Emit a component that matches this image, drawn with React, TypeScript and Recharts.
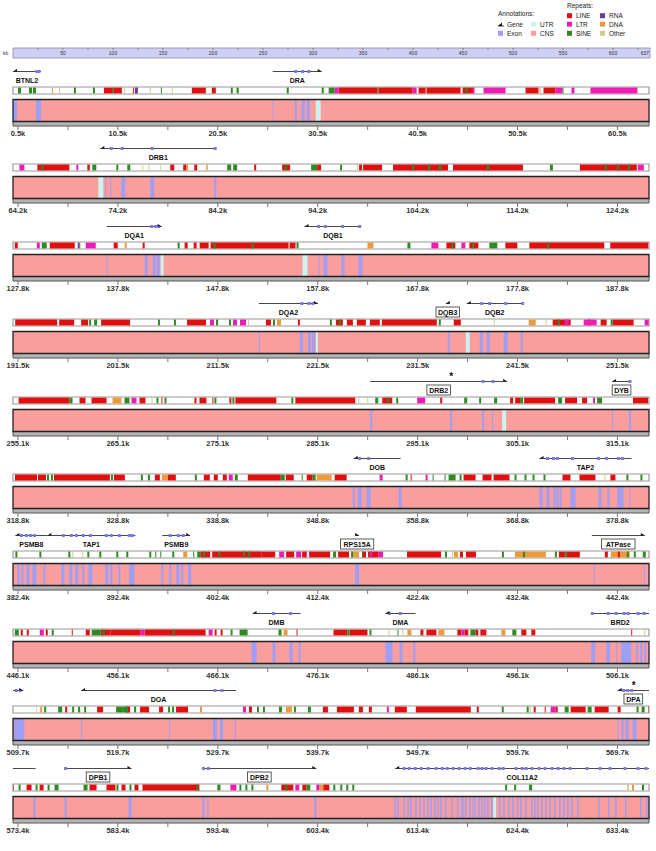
import React from 'react';
import { ComposedChart, XAxis, YAxis, ReferenceArea, ReferenceLine, Scatter } from 'recharts';

type Span = [number, number];

// rows of the browser, kb
const rowStarts = [0, 63.66, 127.32, 190.98, 254.64, 318.3, 381.96, 445.62, 509.28, 572.94];
const ROW_SPAN = 63.66;

const tickLabels = [
  ['0.5k', '10.5k', '20.5k', '30.5k', '40.5k', '50.5k', '60.5k'],
  ['64.2k', '74.2k', '84.2k', '94.2k', '104.2k', '114.2k', '124.2k'],
  ['127.8k', '137.8k', '147.8k', '157.8k', '167.8k', '177.8k', '187.8k'],
  ['191.5k', '201.5k', '211.5k', '221.5k', '231.5k', '241.5k', '251.5k'],
  ['255.1k', '265.1k', '275.1k', '285.1k', '295.1k', '305.1k', '315.1k'],
  ['318.8k', '328.8k', '338.8k', '348.8k', '358.8k', '368.8k', '378.8k'],
  ['382.4k', '392.4k', '402.4k', '412.4k', '422.4k', '432.4k', '442.4k'],
  ['446.1k', '456.1k', '466.1k', '476.1k', '486.1k', '496.1k', '506.1k'],
  ['509.7k', '519.7k', '529.7k', '539.7k', '549.7k', '559.7k', '569.7k'],
  ['573.4k', '583.4k', '593.4k', '603.4k', '613.4k', '624.4k', '633.4k'],
];

const rulerTicks = [0, 25, 50, 75, 100, 125, 150, 175, 200, 225, 250, 275, 300, 325, 350, 375, 400, 425, 450, 475, 500, 525, 550, 575, 600, 625, 637];

// repeats by class, kb
const lineRepeats: Span[] = [
  [9.1, 10.0], [10.1, 10.9], [12.0, 12.1], [17.9, 19.3], [19.9, 20.3], [32.6, 36.5], [36.6, 40.0], [40.6, 41.3], [41.4, 44.8], [45.0, 46.1], [51.3, 52.6], [53.1, 54.3],
  [66.1, 69.3], [71.1, 71.35], [79.4, 79.8], [80.7, 81.0], [81.8, 82.1], [87.8, 88.0], [90.6, 91.4], [94.1, 94.5], [98.3, 98.6], [98.7, 100.6], [101.7, 107.2], [107.7, 114.7], [120.4, 126.1],
  [127.5, 127.8], [131.0, 133.5], [137.4, 137.8], [140.3, 140.5], [144.5, 144.8], [145.4, 145.7], [146.0, 146.9], [147.1, 154.9], [155.0, 155.6], [170.7, 171.6], [173.0, 173.9], [176.6, 177.8], [179.0, 186.5], [187.1, 190.9],
  [191.2, 195.4], [195.6, 197.1], [197.8, 198.5], [199.8, 202.7], [208.4, 210.3], [216.3, 216.8], [219.5, 219.7], [223.3, 224.0], [224.4, 225.0], [225.4, 226.3], [226.7, 227.7], [227.9, 233.4], [235.1, 235.8], [245.0, 246.8], [248.5, 248.8], [249.8, 250.4], [251.0, 253.1],
  [255.2, 260.3], [261.3, 261.9], [262.5, 264.0], [267.3, 267.9], [269.5, 269.6], [272.8, 273.0], [273.3, 274.0], [274.6, 274.7], [276.3, 276.5], [276.9, 281.0], [282.9, 288.9], [291.6, 292.6], [297.4, 297.6], [304.4, 304.7], [304.9, 305.4], [305.8, 308.9], [309.9, 311.1], [311.6, 312.1], [316.7, 318.2],
  [318.5, 320.7], [320.8, 321.6], [322.4, 328.0], [328.4, 329.5], [332.5, 333.0], [333.8, 334.6], [337.4, 338.0], [338.4, 338.8], [339.3, 339.7], [341.8, 345.1], [345.6, 346.4], [347.7, 348.3], [350.5, 351.7], [358.1, 358.2], [363.4, 364.6], [365.3, 366.2], [366.4, 368.0], [373.3, 374.1], [375.0, 376.6], [378.1, 378.6],
  [400.7, 401.7], [401.9, 406.8], [406.8, 408.2], [409.3, 410.1], [410.9, 411.3], [411.6, 413.7], [414.5, 415.6], [416.9, 417.3], [417.5, 418.5], [421.4, 424.8], [426.7, 427.0], [427.3, 428.3], [436.6, 437.2], [437.4, 438.7], [441.2, 441.5], [442.5, 442.7],
  [446.4, 446.6], [447.0, 447.2], [448.9, 449.1], [451.5, 451.6], [452.9, 453.3], [454.4, 455.4], [455.4, 458.4], [458.8, 464.9], [465.8, 466.0], [466.4, 466.6], [474.0, 474.1], [477.7, 479.1], [479.3, 481.1], [486.4, 486.7], [487.0, 488.0], [490.1, 490.5], [490.8, 491.2], [491.9, 492.2], [492.4, 493.0], [496.5, 497.0], [497.5, 497.9], [507.5, 507.6],
  [514.5, 514.7], [517.7, 518.3], [520.6, 521.0], [522.0, 522.9], [523.9, 524.3], [525.6, 526.8], [532.9, 533.2], [540.3, 540.8], [541.7, 543.4], [543.9, 544.3], [544.9, 545.2], [547.5, 548.7], [549.6, 555.1], [555.7, 555.9], [561.4, 561.6], [562.5, 562.6], [563.6, 563.8], [565.1, 566.6], [567.5, 568.9], [569.8, 570.1], [572.9, 573.0],
  [574.3, 574.8], [575.6, 576.0], [580.6, 581.3], [582.3, 583.2], [583.8, 584.2], [585.1, 585.5], [585.9, 591.6], [599.8, 601.0], [601.9, 602.3], [604.0, 604.6],
];

const ltrRepeats: Span[] = [
  [32.2, 32.6], [40.0, 40.4], [46.0, 46.2], [47.1, 49.3], [54.3, 55.0], [55.9, 56.2], [57.8, 62.5],
  [64.3, 64.8], [70.0, 70.2], [126.2, 126.8],
  [129.7, 130.0], [134.6, 135.6], [169.2, 169.9], [172.2, 172.6],
  [210.7, 211.1], [213.0, 213.4], [213.7, 214.3], [246.2, 246.6], [248.1, 249.4], [254.2, 254.6],
  [266.5, 267.0], [295.1, 295.9], [312.7, 312.9],
  [339.9, 340.3], [355.0, 355.3], [359.6, 359.8],
  [408.6, 409.1], [410.3, 410.8], [411.3, 411.4], [417.7, 417.9], [418.5, 419.0],
  [448.3, 448.7], [458.4, 458.8], [465.2, 465.6], [490.5, 490.8],
  [532.3, 532.6], [546.7, 546.9], [563.1, 563.6],
  [594.7, 595.3], [601.2, 601.6], [603.3, 603.6],
];

const sineRepeats: Span[] = [
  [0.5, 0.8], [1.6, 1.9], [2.0, 2.3], [6.1, 6.3], [8.0, 8.2], [10.0, 10.1], [14.8, 14.9], [21.8, 22.0], [22.4, 22.6], [27.4, 27.6], [30.9, 31.1], [31.6, 32.2], [36.5, 36.6], [45.3, 45.5], [55.0, 55.1],
  [66.5, 66.7], [71.6, 72.0], [74.0, 74.2], [75.1, 75.4], [85.1, 85.5], [85.7, 86.1], [90.9, 91.1], [93.5, 94.1], [96.4, 96.6], [103.6, 103.8], [105.2, 105.4], [106.3, 106.5], [111.1, 111.3], [117.4, 117.7], [122.9, 123.1], [124.1, 124.3], [125.2, 125.4],
  [130.2, 130.7], [143.8, 144.0], [147.4, 147.6], [151.2, 151.4], [155.7, 155.9], [166.8, 167.1], [171.2, 171.4], [173.3, 173.5], [175.0, 175.8], [180.8, 181.0],
  [198.6, 198.8], [199.1, 199.4], [205.5, 205.7], [207.1, 207.3], [211.3, 211.5], [212.6, 212.8], [217.0, 217.2], [222.7, 222.9], [223.6, 223.8], [233.6, 233.8], [245.5, 245.7], [250.8, 251.0],
  [260.3, 260.6], [265.8, 266.3], [269.0, 269.2], [269.8, 270.0], [274.8, 275.0], [276.6, 276.8], [282.5, 282.7], [290.9, 291.2], [292.1, 292.3], [293.0, 293.2], [299.8, 300.1], [301.3, 301.5], [302.8, 303.1], [305.4, 305.7], [309.2, 309.6], [313.1, 313.6],
  [321.7, 321.9], [322.1, 322.3], [328.1, 328.3], [331.1, 331.3], [331.8, 332.0], [336.5, 336.7], [340.5, 340.8], [345.1, 345.5], [347.2, 347.3], [348.3, 348.6], [357.6, 357.8], [360.3, 360.4], [361.5, 361.6], [361.9, 362.6], [363.0, 363.2], [368.5, 368.7], [369.5, 369.7], [370.3, 370.5], [371.4, 371.6], [379.7, 379.9], [381.1, 381.3],
  [382.2, 382.4], [384.6, 384.8], [387.5, 387.7], [389.4, 389.6], [390.6, 390.8], [392.3, 392.5], [393.3, 393.5], [395.6, 395.8], [396.2, 396.3], [396.7, 396.8], [397.9, 398.1], [400.0, 400.1], [400.4, 400.7], [401.0, 401.2], [402.5, 402.7], [405.0, 405.2], [405.5, 405.7], [414.0, 414.3], [415.8, 416.0], [416.9, 417.0], [425.2, 425.4], [430.9, 431.1], [433.0, 433.2], [436.2, 436.4], [437.2, 437.4], [443.4, 443.6], [444.1, 444.3], [445.0, 445.3],
  [445.8, 446.2], [449.5, 449.7], [453.5, 454.4], [454.6, 454.8], [461.6, 461.8], [467.4, 467.6], [468.3, 469.1], [472.2, 472.5], [479.1, 479.3], [481.3, 481.5], [484.1, 484.2], [491.4, 491.9], [495.6, 496.0],
  [512.4, 512.6], [513.8, 514.2], [515.2, 515.4], [515.8, 516.0], [516.4, 516.6], [519.6, 520.2], [520.2, 520.8], [521.4, 521.6], [524.8, 525.0], [525.2, 525.4], [533.7, 533.9], [534.3, 534.5], [535.9, 536.2], [537.4, 537.6], [538.8, 539.1], [558.2, 558.4], [560.7, 560.9], [564.5, 564.9], [566.8, 567.2], [571.7, 571.9], [572.2, 572.5],
  [573.5, 573.7], [575.2, 575.4], [576.4, 576.6], [577.1, 577.5], [580.0, 580.4], [583.3, 583.5], [584.6, 584.8], [591.3, 591.5], [593.4, 593.7], [595.6, 595.8], [596.2, 596.4], [596.8, 597.0], [600.2, 600.4], [602.3, 602.7], [605.0, 605.2], [605.7, 605.9], [606.3, 606.5], [606.9, 607.1], [622.2, 622.4], [623.1, 623.3], [624.6, 624.9], [635.9, 636.1],
];

const rnaRepeats: Span[] = [[12.2, 12.5], [133.8, 134.0]];

const dnaRepeats: Span[] = [
  [3.9, 4.0], [52.7, 52.8], [81.0, 81.2], [83.0, 83.15], [138.5, 138.7], [162.8, 163.4], [217.4, 217.8], [242.6, 243.3], [264.6, 265.5], [292.3, 292.5],
  [333.2, 333.8], [348.7, 350.2], [365.7, 365.9], [399.0, 399.4], [416.0, 416.6], [426.1, 426.5], [432.2, 435.3], [441.8, 443.7], [472.7, 473.1], [485.1, 485.5],
  [488.2, 488.8], [494.5, 494.9], [512.0, 512.2], [528.0, 528.2], [536.6, 537.2], [598.3, 598.5], [603.6, 604.0], [634.9, 635.1],
];

const otherRepeats: Span[] = [
  [4.6, 4.7], [11.1, 11.2], [13.7, 13.8], [15.9, 16.0], [22.3, 22.4], [41.3, 41.4], [76.6, 76.7], [77.2, 77.3], [78.4, 78.5], [98.1, 98.2], [134.0, 134.1],
  [214.5, 214.6], [239.1, 239.2], [244.3, 244.4], [268.5, 268.6], [289.2, 289.3], [290.1, 290.2], [377.5, 377.6], [387.9, 388.0], [388.9, 389.0], [425.9, 426.0],
  [483.2, 483.3], [484.6, 484.7], [508.8, 508.9], [511.6, 511.7], [561.0, 561.1], [634.4, 634.6],
];

// conserved exons and UTRs, kb
const exons: Span[] = [
  [0, 0.4], [2.3, 2.8], [26.0, 26.1], [28.2, 28.4], [28.9, 29.2], [29.4, 29.7],
  [72.9, 73.0], [73.4, 73.5], [74.5, 74.9], [77.4, 77.8], [83.8, 84.0],
  [136.7, 136.8], [140.5, 140.8], [141.3, 141.6], [141.7, 142.0], [157.9, 158.0], [158.4, 158.8], [160.2, 160.5], [161.9, 162.3],
  [215.6, 215.7], [219.7, 220.0], [220.5, 220.8], [220.9, 221.2], [234.5, 234.7], [237.7, 238.0], [238.4, 238.7], [240.1, 240.5], [241.8, 242.0],
  [290.4, 290.6], [298.4, 298.6], [301.6, 301.8], [302.6, 302.7], [314.6, 314.7], [316.3, 316.5],
  [352.3, 352.5], [352.8, 353.2], [353.7, 354.1], [356.9, 357.2], [371.0, 371.3], [371.7, 372.0], [372.4, 372.6], [372.7, 372.9], [373.0, 373.2], [374.1, 374.6], [376.9, 377.2], [377.8, 378.0], [378.8, 379.4], [380.0, 380.1],
  [382.4, 382.6], [382.8, 383.0], [383.3, 383.6], [383.9, 384.3], [385.0, 385.2], [386.8, 387.1], [387.6, 387.9], [388.2, 388.5], [388.9, 389.1], [389.5, 389.9], [391.2, 391.5], [391.7, 391.9], [392.5, 392.7], [393.6, 394.1],
  [396.8, 397.0], [397.6, 397.8], [398.3, 398.6], [398.8, 399.0], [399.5, 399.8], [416.2, 416.6], [440.1, 440.2], [445.1, 445.2],
  [469.5, 470.0], [471.6, 471.9], [473.3, 473.6], [474.2, 474.4], [482.9, 483.6], [484.3, 484.6], [485.7, 485.9], [503.5, 503.9], [505.0, 505.4], [506.0, 506.1], [506.5, 507.5], [508.0, 508.2], [508.4, 508.6], [508.8, 509.0],
  [509.4, 510.4], [516.1, 516.2], [524.9, 525.0], [529.3, 529.7], [530.0, 530.3], [531.5, 531.6], [569.8, 569.9], [570.2, 570.4], [570.6, 570.9], [571.3, 571.7],
  [575.0, 575.2], [578.1, 578.3], [584.5, 584.8], [591.9, 592.1], [592.4, 592.5], [603.1, 603.3],
  [611.1, 611.25], [611.4, 611.55], [612.0, 612.15], [612.4, 612.55], [612.7, 612.85], [613.2, 613.35], [613.6, 613.75], [614.0, 614.15], [614.4, 614.55], [614.7, 614.85],
  [615.1, 615.25], [615.4, 615.55], [615.7, 615.85], [616.2, 616.35], [616.8, 616.95], [617.4, 617.55], [617.8, 617.95], [618.0, 618.1], [618.2, 618.35], [618.6, 618.75],
  [618.9, 619.0], [619.1, 619.25], [619.5, 619.65], [619.8, 619.95], [620.1, 620.25], [620.4, 620.55], [620.8, 620.95], [621.6, 621.75], [622.0, 622.15], [622.5, 622.65],
  [622.9, 623.05], [623.4, 623.55], [623.7, 623.85], [624.2, 624.35], [624.8, 624.95], [625.1, 625.25], [625.4, 625.55], [625.8, 625.95], [626.2, 626.35], [626.6, 626.75],
  [627.1, 627.25], [627.6, 627.75], [628.0, 628.15], [628.4, 628.55], [628.8, 628.95], [629.4, 629.55], [631.5, 631.65], [632.5, 632.65], [633.2, 633.35], [634.2, 634.35],
  [635.7, 635.85], [636.3, 636.45],
];

const utrs: Span[] = [[30.3, 30.8], [72.2, 72.7], [142.1, 142.4], [156.3, 156.8], [221.3, 221.5], [236.3, 236.7], [303.6, 304.0], [621.0, 621.3]];

type Gene = { name: string; start: number; end: number; strand: 1 | -1; marks: number[]; boxed?: boolean; star?: number };

const genes: Gene[] = [
  { name: 'BTNL2', start: 0.0, end: 2.8, strand: -1, marks: [2.4, 2.6] },
  { name: 'DRA', start: 26.0, end: 30.9, strand: 1, marks: [28.3, 29.0, 29.6] },
  { name: 'DRB1', start: 72.4, end: 84.0, strand: -1, marks: [73.5, 74.6, 77.6, 83.9] },
  { name: 'DQA1', start: 136.7, end: 142.2, strand: 1, marks: [141.2, 141.6, 141.9] },
  { name: 'DQB1', start: 156.5, end: 162.2, strand: -1, marks: [157.9, 158.6, 160.3, 162.0] },
  { name: 'DQA2', start: 215.6, end: 221.5, strand: 1, marks: [219.9, 220.6, 221.0] },
  { name: 'DQB3', start: 234.3, end: 234.7, strand: -1, marks: [], boxed: true },
  { name: 'DQB2', start: 236.4, end: 242.0, strand: -1, marks: [237.9, 238.7, 240.3, 242.0] },
  { name: 'DRB2', start: 290.4, end: 304.1, strand: 1, marks: [301.7, 302.7], boxed: true, star: 298.5 },
  { name: 'DYB', start: 314.6, end: 316.5, strand: -1, marks: [316.4], boxed: true },
  { name: 'DOB', start: 352.4, end: 357.1, strand: -1, marks: [353.0, 353.9] },
  { name: 'TAP2', start: 371.0, end: 380.2, strand: -1, marks: [371.8, 372.4, 372.8, 374.3, 376.9, 377.7, 378.9, 379.3] },
  { name: 'PSMB8', start: 382.2, end: 385.4, strand: -1, marks: [382.8, 383.3, 383.7, 384.1] },
  { name: 'TAP1', start: 385.4, end: 394.2, strand: -1, marks: [387.0, 387.8, 388.3, 389.0, 389.7, 391.3, 391.8, 392.6, 393.6, 393.9] },
  { name: 'PSMB9', start: 396.9, end: 399.7, strand: 1, marks: [397.7, 398.5, 399.0] },
  { name: 'RPS15A', start: 416.2, end: 416.6, strand: 1, marks: [], boxed: true },
  { name: 'ATPase', start: 439.9, end: 445.2, strand: 1, marks: [], boxed: true },
  { name: 'DMB', start: 469.6, end: 474.4, strand: -1, marks: [471.7, 473.4] },
  { name: 'DMA', start: 482.9, end: 485.9, strand: -1, marks: [483.3, 484.4] },
  { name: 'BRD2', start: 503.5, end: 510.3, strand: 1, marks: [503.6, 505.2, 506.0, 506.8, 507.2, 508.2, 508.8, 509.6, 510.0] },
  { name: 'DOA', start: 516.1, end: 531.6, strand: -1, marks: [529.5, 530.2] },
  { name: 'DPA', start: 569.8, end: 575.2, strand: -1, marks: [570.4, 570.8, 571.2], boxed: true, star: 571.4 },
  { name: 'DPB1', start: 578.1, end: 584.8, strand: 1, marks: [578.2], boxed: true },
  { name: 'DPB2', start: 591.9, end: 603.3, strand: 1, marks: [592.0, 592.5], boxed: true },
  {
    name: 'COL11A2', start: 611.2, end: 636.6, strand: -1,
    marks: [612.1, 612.6, 613.2, 613.8, 614.5, 615.3, 615.9, 616.4, 617.0, 617.6, 618.2, 618.7, 619.5, 619.9, 620.3, 620.9, 621.6, 622.0, 623.3, 623.9, 624.3, 624.9, 625.6, 626.2, 626.9, 627.5, 628.1, 628.7, 630.4, 631.7, 632.7, 634.2, 635.5, 636.3],
  },
];

const C = {
  cns: '#f99d9d',
  exon: '#9e9ef4',
  utr: '#cdf3ef',
  line: '#e01010',
  ltr: '#ee1cb4',
  sine: '#2f8a22',
  rna: '#6a3a9a',
  dna: '#ee9a3a',
  other: '#cfcf8c',
};

const FONT = 'Liberation Sans, Arial, sans-serif';
const GENE_Y = 11.5;
const LABEL_Y = 20;
const STAR_Y = 5.5;

const Marker = (p: any) => <rect x={p.cx - 1.5} y={p.cy - 1.5} width={3} height={3} fill="#7a7ae8" />;

const Arrow = (p: any) => {
  const d = p.payload.dir;
  return <path d={`M${p.cx},${p.cy} L${p.cx - d * 4},${p.cy - 2.6} L${p.cx - d * 4},${p.cy} Z`} fill="#111" />;
};

const GeneLabel = (p: any) => {
  const { cx, cy, payload } = p;
  const w = payload.name.length * 4.9 + 4;
  return (
    <g>
      {payload.boxed && <rect x={cx - w / 2} y={cy - 5} width={w} height={10} fill="#fff" stroke="#333" strokeWidth={0.8} />}
      <text x={cx} y={cy + 2.6} textAnchor="middle" fontSize={7} fontWeight="bold" fontFamily={FONT} fill="#111">
        {payload.name}
      </text>
    </g>
  );
};

const Star = (p: any) => (
  <text x={p.cx} y={p.cy + 4} textAnchor="middle" fontSize={10} fontWeight="bold" fontFamily={FONT} fill="#111">*</text>
);

function Row({ row }: { row: number }) {
  const s = rowStarts[row];
  const e = s + ROW_SPAN;
  const clip = (list: Span[]) =>
    list.filter(([a, b]) => b > s && a < e).map(([a, b]) => [Math.max(a, s), Math.min(b, e)] as Span);
  const ticks = Array.from({ length: 13 }, (_, k) => s + 0.5 + 5 * k);

  const rowGenes = genes.filter((g) => g.end > s && g.start < e);
  const markers = rowGenes.flatMap((g) => g.marks.filter((m) => m >= s && m <= e).map((m) => ({ x: m, y: GENE_Y })));
  const arrows = rowGenes
    .map((g) => ({ x: g.strand > 0 ? g.end : g.start, y: GENE_Y, dir: g.strand }))
    .filter((a) => a.x >= s && a.x <= e);
  const labels = rowGenes
    .filter((g) => g.start >= s && g.start < e)
    .map((g) => ({ x: (Math.max(g.start, s) + Math.min(g.end, e)) / 2, y: LABEL_Y, name: g.name, boxed: !!g.boxed }));
  const stars = rowGenes.filter((g) => g.star !== undefined && g.star >= s && g.star < e).map((g) => ({ x: g.star, y: STAR_Y }));

  const repeatLayers: [Span[], string][] = [
    [otherRepeats, C.other],
    [dnaRepeats, C.dna],
    [lineRepeats, C.line],
    [ltrRepeats, C.ltr],
    [sineRepeats, C.sine],
    [rnaRepeats, C.rna],
  ];

  return (
    <ComposedChart width={656} height={78} margin={{ top: 0, right: 7, bottom: 0, left: 13 }}>
      <XAxis
        type="number"
        dataKey="x"
        domain={[s, e]}
        allowDataOverflow
        ticks={ticks}
        interval={0}
        height={12}
        axisLine={false}
        tickLine={{ stroke: '#777' }}
        tickSize={4}
        tickMargin={1}
        tickFormatter={(_v: number, i: number) => (i % 2 === 0 ? tickLabels[row][i / 2] : '')}
        tick={{ fontSize: 7.5, fontWeight: 'bold', fill: '#333', fontFamily: FONT }}
      />
      <YAxis type="number" dataKey="y" domain={[0, 66]} reversed hide allowDataOverflow />

      {/* conservation panel */}
      <ReferenceArea x1={s} x2={e} y1={61.5} y2={66} fill="#b4b4b4" fillOpacity={1} stroke="#555" strokeWidth={1} ifOverflow="visible" />
      <ReferenceArea x1={s} x2={e} y1={39.5} y2={61.5} fill={C.cns} fillOpacity={1} ifOverflow="visible" />
      {clip(utrs).map(([a, b], i) => (
        <ReferenceArea key={`u${i}`} x1={a} x2={b} y1={39.5} y2={61.5} fill={C.utr} fillOpacity={1} ifOverflow="visible" />
      ))}
      {clip(exons).map(([a, b], i) => (
        <ReferenceArea key={`x${i}`} x1={a} x2={b} y1={39.5} y2={61.5} fill={C.exon} fillOpacity={1} ifOverflow="visible" />
      ))}
      <ReferenceArea x1={s} x2={e} y1={39.5} y2={61.5} fill="none" stroke="#222" strokeWidth={1.3} ifOverflow="visible" />

      {/* repeat track */}
      <ReferenceArea x1={s} x2={e} y1={27} y2={34} fill="#fff" fillOpacity={1} stroke="#9a9a9a" strokeWidth={1.2} ifOverflow="visible" />
      {repeatLayers.flatMap(([list, color], j) =>
        clip(list).map(([a, b], i) => (
          <ReferenceArea key={`r${j}-${i}`} x1={a} x2={b} y1={27.6} y2={33.4} fill={color} fillOpacity={1} ifOverflow="visible" />
        )),
      )}

      {/* genes */}
      {rowGenes.map((g, i) => (
        <ReferenceLine
          key={`g${i}`}
          segment={[{ x: Math.max(g.start, s), y: GENE_Y }, { x: Math.min(g.end, e), y: GENE_Y }]}
          stroke="#333"
          strokeWidth={0.9}
          ifOverflow="visible"
        />
      ))}
      <Scatter data={markers} dataKey="y" shape={Marker} isAnimationActive={false} />
      <Scatter data={arrows} dataKey="y" shape={Arrow} isAnimationActive={false} />
      <Scatter data={labels} dataKey="y" shape={GeneLabel} isAnimationActive={false} />
      <Scatter data={stars} dataKey="y" shape={Star} isAnimationActive={false} />
    </ComposedChart>
  );
}

// ruler: tick marks and labels drawn as a scatter on the kb scale
const RulerMark = (p: any) => {
  const v = p.payload.x;
  const labelled = v % 50 === 0 || v === 637;
  const anchor = v === 0 ? 'end' : v === 637 ? 'end' : 'middle';
  const dx = v === 0 ? -1 : v === 637 ? -1 : 0;
  return (
    <g>
      {v > 0 && v < 637 && <line x1={p.cx} x2={p.cx} y1={p.cy - 5} y2={p.cy - 3} stroke="#666" strokeWidth={0.7} />}
      {labelled && (
        <text x={p.cx + dx} y={p.cy + 2} textAnchor={anchor} fontSize={5} fontFamily={FONT} fill="#333">
          {v}
        </text>
      )}
    </g>
  );
};

function Ruler() {
  const marks = rulerTicks.map((v) => ({ x: v, y: 5 }));
  return (
    <ComposedChart width={656} height={12} margin={{ top: 1, right: 6, bottom: 1, left: 13 }}>
      <XAxis type="number" dataKey="x" domain={[0, 637]} allowDataOverflow hide />
      <YAxis type="number" dataKey="y" domain={[0, 10]} allowDataOverflow reversed hide />
      <ReferenceArea x1={0} x2={637} y1={0} y2={10} fill="#cfcff6" fillOpacity={1} stroke="#8888a0" strokeWidth={0.8} ifOverflow="visible" />
      <Scatter data={marks} dataKey="y" shape={RulerMark} isAnimationActive={false} />
    </ComposedChart>
  );
}

function Legend() {
  const t = { fontSize: 6.5, fontFamily: FONT, fill: '#222' } as const;
  const sq = (x: number, y: number, c: string) => <rect x={x} y={y - 2.5} width={5} height={5} fill={c} />;
  return (
    <svg width={656} height={44} style={{ position: 'absolute', left: 0, top: 0 }}>
      <text x={498} y={16.3} {...t}>Annotations:</text>
      <path d="M498,26 L502,22.5 L502,26 Z" fill="#111" />
      <line x1={498} x2={504} y1={26} y2={26} stroke="#111" strokeWidth={0.8} />
      <text x={507} y={26.5} {...t}>Gene</text>
      {sq(498, 33.3, C.exon)}
      <text x={507} y={35.6} {...t}>Exon</text>
      {sq(531, 24.2, C.utr)}
      <text x={540} y={26.5} {...t}>UTR</text>
      {sq(531, 33.3, C.cns)}
      <text x={540} y={35.6} {...t}>CNS</text>
      <text x={567} y={8.3} {...t}>Repeats:</text>
      {sq(567, 15.7, C.line)}
      <text x={576} y={18} {...t}>LINE</text>
      {sq(567, 24.2, C.ltr)}
      <text x={576} y={26.5} {...t}>LTR</text>
      {sq(567, 33.3, C.sine)}
      <text x={576} y={35.6} {...t}>SINE</text>
      {sq(600, 15.7, C.rna)}
      <text x={609} y={18} {...t}>RNA</text>
      {sq(600, 24.2, C.dna)}
      <text x={609} y={26.5} {...t}>DNA</text>
      {sq(600, 33.3, C.other)}
      <text x={609} y={35.6} {...t}>Other</text>
    </svg>
  );
}

const ROW_TOP = 60;
const ROW_PITCH = 77.4;

export default function App() {
  return (
    <div style={{ position: 'absolute', left: 0, top: 0, width: 656, height: 851, background: '#fff', overflow: 'hidden' }}>
      <Legend />
      <div style={{ position: 'absolute', left: 0, top: 47 }}>
        <Ruler />
        <span style={{ position: 'absolute', left: 3, top: 3, fontSize: 5, fontFamily: FONT, color: '#333', lineHeight: '6px' }}>kb</span>
      </div>
      {rowStarts.map((_, r) => (
        <div key={r} style={{ position: 'absolute', left: 0, top: ROW_TOP + r * ROW_PITCH }}>
          <Row row={r} />
        </div>
      ))}
    </div>
  );
}
